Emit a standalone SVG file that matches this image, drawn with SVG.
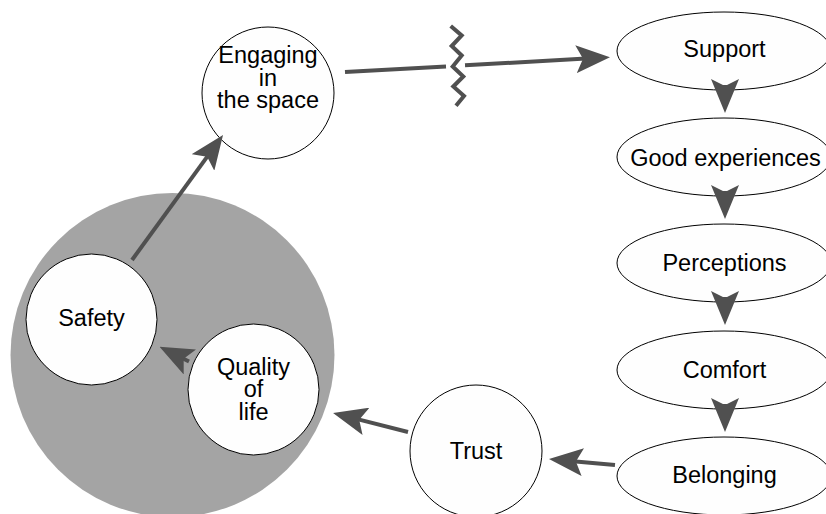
<svg xmlns="http://www.w3.org/2000/svg" width="826" height="514" viewBox="0 0 826 514">
<defs>
<style>
.node{fill:#fefefe;stroke:#000;stroke-width:1}
.lbl{font-family:"Liberation Sans",Arial,sans-serif;font-size:23.5px;fill:#000;text-anchor:middle}
.conn{fill:none;stroke:#505050;stroke-width:4}
</style>
<marker id="arr" viewBox="0 0 34 28" refX="10" refY="14" markerWidth="34" markerHeight="28" markerUnits="userSpaceOnUse" orient="auto">
<path d="M0,0 L34,14 L0,28 L7,14 Z" fill="#505050"/>
</marker>
</defs>
<rect width="826" height="514" fill="#fff"/>
<g id="background-circle">
<circle cx="172.5" cy="355" r="162" fill="#a4a4a4"/>
</g>
<g id="node-engaging">
<circle class="node" cx="268" cy="93" r="66"/>
<text class="lbl" x="268" y="63">Engaging</text>
<text class="lbl" x="268" y="86">in</text>
<text class="lbl" x="268" y="108">the space</text>
</g>
<g id="node-safety">
<circle class="node" cx="91.5" cy="319.5" r="65.5"/>
<text class="lbl" x="91.5" y="326">Safety</text>
</g>
<g id="node-quality">
<circle class="node" cx="253.5" cy="389.5" r="65.5"/>
<text class="lbl" x="253.5" y="375">Quality</text>
<text class="lbl" x="253.5" y="397">of</text>
<text class="lbl" x="253.5" y="420">life</text>
</g>
<g id="node-trust">
<circle class="node" cx="476" cy="451" r="66"/>
<text class="lbl" x="476" y="459">Trust</text>
</g>
<g id="node-support">
<ellipse class="node" cx="724" cy="51" rx="107" ry="39"/>
<text class="lbl" x="724.5" y="57">Support</text>
</g>
<g id="node-good">
<ellipse class="node" cx="724" cy="157" rx="107" ry="39"/>
<text class="lbl" x="725.5" y="166">Good experiences</text>
</g>
<g id="node-perceptions">
<ellipse class="node" cx="724" cy="263" rx="107" ry="39"/>
<text class="lbl" x="724.5" y="271">Perceptions</text>
</g>
<g id="node-comfort">
<ellipse class="node" cx="724" cy="370" rx="107" ry="39"/>
<text class="lbl" x="724.5" y="378">Comfort</text>
</g>
<g id="node-belonging">
<ellipse class="node" cx="724" cy="476" rx="107" ry="39"/>
<text class="lbl" x="724.5" y="483">Belonging</text>
</g>
<g id="connectors">
<path class="conn" d="M132,260 L208.9,154.4" marker-end="url(#arr)"/>
<path class="conn" d="M345,72 L446,66.4"/>
<path class="conn" d="M465,65.3 L586,58.6" marker-end="url(#arr)"/>
<polyline class="conn" points="450.7,26 461.7,35.5 451.7,46 461.7,55.5 452.7,66.5 463.3,76.5 453.3,86.5 464,96 456,105.7"/>
<path class="conn" d="M725,85 L725,89" marker-end="url(#arr)"/>
<path class="conn" d="M725,191 L725,195" marker-end="url(#arr)"/>
<path class="conn" d="M725,297 L725,301" marker-end="url(#arr)"/>
<path class="conn" d="M725,404 L725,408" marker-end="url(#arr)"/>
<path class="conn" d="M615,465 L572.9,461.2" marker-end="url(#arr)"/>
<path class="conn" d="M408,432 L356.3,418.9" marker-end="url(#arr)"/>
<path class="conn" d="M189,361.5 L181,357.5" marker-end="url(#arr)"/>
</g>
</svg>
